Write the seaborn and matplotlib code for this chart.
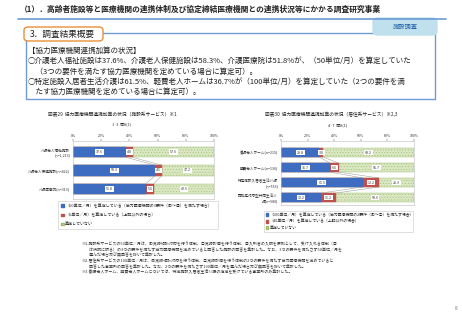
import matplotlib
matplotlib.use("Agg")
import matplotlib.pyplot as plt
from matplotlib.patches import FancyBboxPatch, Patch
import pandas as pd
import seaborn as sns

# 図表29 施設系サービス
facility_labels = ["介護老人福祉施設\n(n=1,213)", "介護老人保健施設(n=422)", "介護医療院(n=313)"]
facility_50 = [37.6, 58.3, 51.8]
facility_5 = [4.8, 4.5, 5.6]
facility_none = [57.6, 37.2, 42.6]
facility_legend = [
    "（50単位／月）を算定している（協力医療機関の3要件（①～③）を満たす場合）",
    "（5単位／月）を算定している（上記以外の場合）",
    "算定していない",
]

# 図表30 居住系サービス
residential_labels = ["養護老人ホーム(n=215)", "軽費老人ホーム(n=136)",
                      "特定施設入居者生活介護\n(n=553)", "認知症対応型共同生活介\n護(n=580)"]
residential_100 = [28.8, 36.7, 61.5, 30.2]
residential_40 = [3.0, 6.6, 12.2, 11.2]
residential_none = [68.2, 56.7, 26.3, 58.6]
residential_legend = [
    "（100単位／月）を算定している（協力医療機関の2要件（①～②）を満たす場合）",
    "（40単位／月）を算定している（上記以外の場合）",
    "算定していない",
]

x_ticks = [0, 20, 40, 60, 80, 100]

W, H = 462, 320
BLUE = "#3D6CC0"
RED = "#C0504D"
GREEN = "#D9E7C3"
HATCH = "#9DBB6A"

sns.set_theme(style="white")
plt.rcParams["font.family"] = ["Noto Sans CJK JP", "DejaVu Sans"]
plt.rcParams["hatch.color"] = HATCH
plt.rcParams["hatch.linewidth"] = 0.3


def fx(x):
    return x / W


def fy(y):
    return 1 - y / H


def plot_stacked(ax, labels, first, second, third, bar_w, ylim):
    df = pd.DataFrame({"label": labels, "a": first, "b": second, "c": third})
    df["ab"] = df["a"] + df["b"]
    df["abc"] = df["ab"] + df["c"]

    sns.barplot(data=df, x="abc", y="label", orient="h", color=GREEN, saturation=1,
                width=bar_w, edgecolor=HATCH, linewidth=0.3, ax=ax)
    for p in ax.patches:
        p.set_hatch("......")
    sns.barplot(data=df, x="ab", y="label", orient="h", color=RED, saturation=1,
                width=bar_w, edgecolor=RED, linewidth=0.3, ax=ax)
    sns.barplot(data=df, x="a", y="label", orient="h", color=BLUE, saturation=1,
                width=bar_w, edgecolor=BLUE, linewidth=0.3, ax=ax)

    # 系列線
    for i in range(len(df) - 1):
        for col in ["a", "ab"]:
            ax.plot([df[col][i], df[col][i + 1]], [i + bar_w / 2, i + 1 - bar_w / 2],
                    color="#999999", lw=0.35, zorder=1)

    box = dict(boxstyle="square,pad=0.25", fc="white", ec="none")
    for i, row in df.iterrows():
        ax.text(row["a"] / 2, i, f"{row['a']:.1f}", ha="center", va="center",
                fontsize=2.6, color="#333333", bbox=box)
        ax.text(row["a"] + row["b"] / 2, i, f"{row['b']:.1f}", ha="center", va="center",
                fontsize=2.6, color="#333333", bbox=box)
        ax.text(row["ab"] + row["c"] / 2, i, f"{row['c']:.1f}", ha="center", va="center",
                fontsize=2.6, color="#333333", bbox=box)

    ax.set_xlim(0, 100)
    ax.set_ylim(*ylim)
    ax.set_xticks(x_ticks)
    ax.set_xticklabels([f"{t}%" for t in x_ticks])
    ax.xaxis.tick_top()
    ax.tick_params(axis="x", labelsize=2.6, length=1.2, width=0.3, pad=1, colors="#333333")
    ax.tick_params(axis="y", labelsize=2.6, length=0, pad=2, colors="#333333")
    ax.set_xlabel("")
    ax.set_ylabel("")
    for s in ax.spines.values():
        s.set_color("#BBBBBB")
        s.set_linewidth(0.4)


fig = plt.figure(figsize=(W / 100, H / 100), dpi=100)

# 見出し
fig.text(fx(20), fy(9), "（1）．高齢者施設等と医療機関の連携体制及び協定締結医療機関との連携状況等にかかる調査研究事業",
         fontsize=5.6, fontweight="bold", ha="left", va="center", color="#222222")
fig.add_artist(plt.Line2D([fx(18), fx(446)], [fy(18.5), fy(18.5)], color="#6C9BD6", lw=1.2))

fig.add_artist(FancyBboxPatch((fx(26), fy(99)), fx(435) - fx(26), fy(33) - fy(99),
                              boxstyle="square,pad=0", fc="white", ec="#6C9BD6", lw=1.0,
                              transform=fig.transFigure))
fig.add_artist(FancyBboxPatch((fx(373), fy(35)), fx(437) - fx(373), fy(18) - fy(35),
                              boxstyle="round,pad=0,rounding_size=0.012", fc="#BFE0EC", ec="#BFE0EC",
                              transform=fig.transFigure))
fig.text(fx(405), fy(26.5), "施設調査", fontsize=4.5, ha="center", va="center", color="#1F5FA8")
fig.add_artist(FancyBboxPatch((fx(24), fy(41)), fx(103) - fx(24), fy(27) - fy(41),
                              boxstyle="round,pad=0,rounding_size=0.01", fc="white", ec="#E8913A", lw=1.0,
                              transform=fig.transFigure))
fig.text(fx(30), fy(34), "3．調査結果概要", fontsize=6.2, ha="left", va="center", color="#222222")

body = [
    "【協力医療機関連携加算の状況】",
    "○介護老人福祉施設は37.6%、介護老人保健施設は58.3%、介護医療院は51.8%が、（50単位/月）を算定していた",
    "　（3つの要件を満たす協力医療機関を定めている場合に算定可）。",
    "○特定施設入居者生活介護は61.5%、軽費老人ホームは36.7%が（100単位/月）を算定していた（2つの要件を満",
    "　たす協力医療機関を定めている場合に算定可）。",
]
for k, line in enumerate(body):
    fig.text(fx(28), fy(51 + k * 10.2), line, fontsize=5.45, ha="left", va="center", color="#222222")

# 図表29
ax1 = fig.add_axes([fx(73), fy(199), fx(214) - fx(73), fy(141) - fy(199)])
plot_stacked(ax1, facility_labels, facility_50, facility_5, facility_none, 0.58, (2.55, -0.6))
fig.text(fx(112), fy(114), "図表29  協力医療機関連携加算の状況（施設系サービス）※1", fontsize=3.4,
         ha="center", va="center", color="#222222")
fig.text(fx(122), fy(124.5), "1~3  問8(1)", fontsize=2.8, ha="center", va="center", color="#333333")
h1 = [Patch(fc=BLUE, ec=BLUE), Patch(fc=RED, ec=RED), Patch(fc=GREEN, ec=HATCH, hatch="......")]
leg1 = fig.legend(h1, facility_legend, loc="upper left",
                  bbox_to_anchor=(fx(58), fy(229), fx(218) - fx(58), fy(201) - fy(229)),
                  mode="expand", fontsize=2.9, frameon=True, fancybox=False, edgecolor="#BBBBBB",
                  handlelength=0.7, handleheight=0.7, handletextpad=0.3, labelspacing=1.2,
                  borderpad=0.7, borderaxespad=0)
leg1.get_frame().set_linewidth(0.4)

# 図表30
ax2 = fig.add_axes([fx(281), fy(205), fx(414) - fx(281), fy(141) - fy(205)])
plot_stacked(ax2, residential_labels, residential_100, residential_40, residential_none, 0.6, (3.5, -0.77))
fig.text(fx(331), fy(114), "図表30  協力医療機関連携加算の状況（居住系サービス）※2,3", fontsize=3.4,
         ha="center", va="center", color="#222222")
fig.text(fx(338), fy(125), "4~7  問8(1)", fontsize=2.8, ha="center", va="center", color="#333333")
leg2 = fig.legend(h1, residential_legend, loc="upper left",
                  bbox_to_anchor=(fx(264), fy(231), fx(413) - fx(264), fy(211) - fy(231)),
                  mode="expand", fontsize=2.8, frameon=True, fancybox=False, edgecolor="#BBBBBB",
                  handlelength=0.7, handleheight=0.7, handletextpad=0.3, labelspacing=0.6,
                  borderpad=0.4, borderaxespad=0)
leg2.get_frame().set_linewidth(0.4)

# 注記
notes = [
    "※1.施設系サービスの50単位／月は、①常時相談対応を行う体制、②常時診療を行う体制、③入所者の入院を原則として、受け入れる体制（③",
    "　　は病院に限る）の3つの要件を満たす協力医療機関を定めていると回答した施設の回答を集計した。なお、3つの要件を満たさず50単位／月を",
    "　　選んだ場合及び無回答を除いて集計した。",
    "※2.居住系サービスの100単位／月は、①常時相談対応を行う体制、②常時診療を行う体制の2つの要件を満たす協力医療機関を定めていると",
    "　　回答した事業所の回答を集計した。なお、2つの要件を満たさず100単位／月を選んだ場合及び無回答を除いて集計した。",
    "※3.養護老人ホーム、軽費老人ホームについては、特定施設入居者生活介護の指定を受けている事業所のみ集計した。",
]
for k, line in enumerate(notes):
    fig.text(fx(81), fy(244 + k * 5.6), line, fontsize=2.85, ha="left", va="center", color="#333333")

fig.text(fx(456), fy(308), "8", fontsize=3.5, ha="center", va="center", color="#777777")

fig.savefig("out.png", dpi=100)
